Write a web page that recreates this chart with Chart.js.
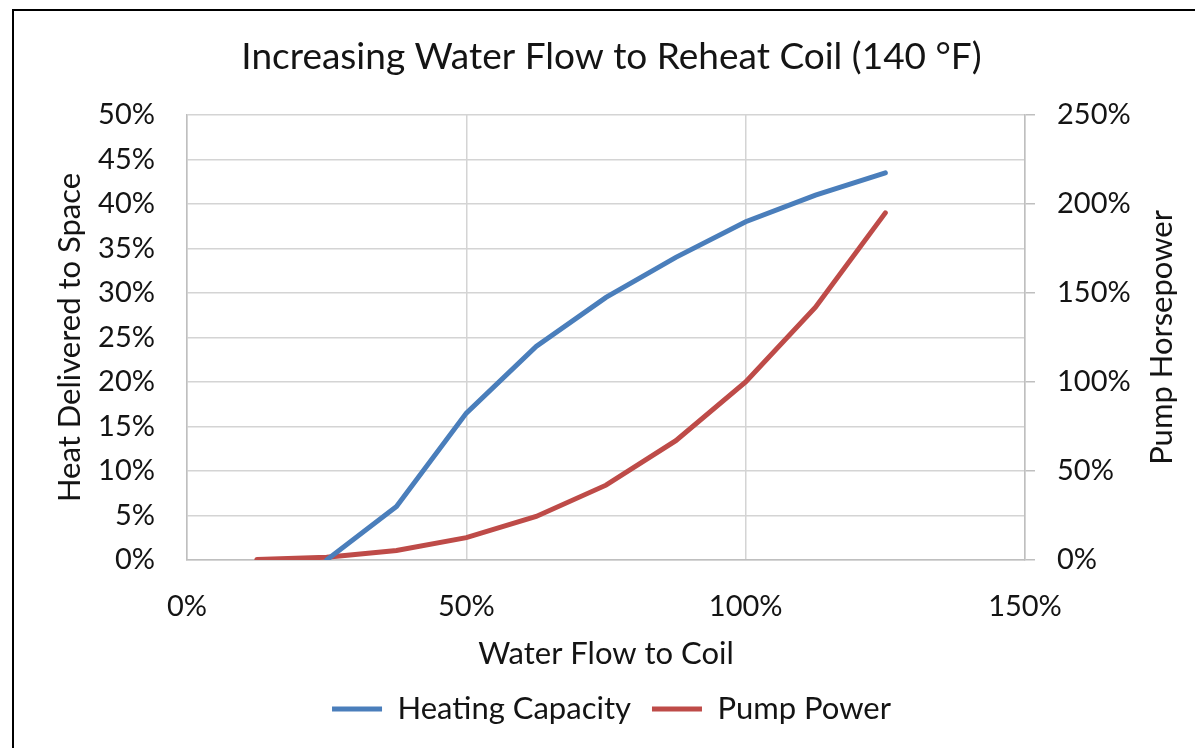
<!DOCTYPE html>
<html><head><meta charset="utf-8">
<script src="https://cdn.jsdelivr.net/npm/chart.js@4.4.0/dist/chart.umd.min.js"></script>
<style>
html,body{margin:0;padding:0;background:#fff;}
#wrap{position:relative;width:1195px;height:748px;overflow:hidden;background:#fff;}
#frame{position:absolute;left:12px;top:9px;width:1300px;height:900px;border-left:2px solid #000;border-top:2px solid #000;pointer-events:none;}
canvas{position:absolute;left:0;top:0;}
</style></head><body>
<div id="wrap"><canvas id="c" width="1195" height="748"></canvas><div id="frame"></div></div>
<script>
// Data
const flow = [12.5, 25, 37.5, 50, 62.5, 75, 87.5, 100, 112.5, 125];           // Water Flow to Coil (%)
const heatingCapacity = [null, 0, 6, 16.5, 24, 29.5, 34, 38, 41, 43.5];      // Heat Delivered to Space (%)
const pumpPower = [0.2, 1.5, 5.3, 12.5, 24.4, 42, 67, 100, 142, 195];        // Pump Horsepower (%)
const xTicks = [0, 50, 100, 150];
const leftTicks = [0, 5, 10, 15, 20, 25, 30, 35, 40, 45, 50];
const rightTicks = [0, 50, 100, 150, 200, 250];
const titleText = 'Increasing Water Flow to Reheat Coil (140 °F)';
const xTitle = 'Water Flow to Coil';
const yTitle = 'Heat Delivered to Space';
const y1Title = 'Pump Horsepower';
const seriesNames = ['Heating Capacity', 'Pump Power'];

const FONT = 'Lato, "Open Sans", sans-serif';
const TXT = '#141414';
const GRID = '#d4d4d4';
const AXIS = '#bfbfbf';

const toPts = (ys) => flow.map((x, i) => ({x: x, y: ys[i]}));

const rightTitlePlugin = {
  id: 'rightTitle',
  afterDraw(chart) {
    const s = chart.scales.y1;
    const ctx = chart.ctx;
    ctx.save();
    ctx.translate(s.right - 33, (chart.chartArea.top + chart.chartArea.bottom) / 2);
    ctx.rotate(-Math.PI / 2);
    ctx.font = '31px ' + FONT;
    ctx.fillStyle = TXT;
    ctx.textAlign = 'center';
    ctx.textBaseline = 'middle';
    ctx.fillText(y1Title, 0, 0);
    ctx.restore();
  }
};

new Chart(document.getElementById('c'), {
  type: 'line',
  data: {
    datasets: [
      {label: seriesNames[0], data: toPts(heatingCapacity), yAxisID: 'y',
       borderColor: '#4a7ebb', backgroundColor: '#4a7ebb', borderWidth: 5,
       pointRadius: 0, tension: 0, borderCapStyle: 'round', spanGaps: false},
      {label: seriesNames[1], data: toPts(pumpPower), yAxisID: 'y1',
       borderColor: '#be4b48', backgroundColor: '#be4b48', borderWidth: 5,
       pointRadius: 0, tension: 0, borderCapStyle: 'round'}
    ]
  },
  options: {
    responsive: false,
    animation: false,
    layout: {padding: {left: 28, right: 0, top: 0, bottom: 13.5}},
    plugins: {
      title: {display: true, text: titleText, color: TXT,
        font: {family: FONT, size: 37, weight: 'normal'},
        padding: {top: 35, bottom: 35.6}},
      legend: {display: true, position: 'bottom',
        labels: {color: TXT, font: {family: FONT, size: 31}, padding: 21,
          usePointStyle: true, pointStyle: 'line', pointStyleWidth: 50}},
      tooltip: {enabled: false}
    },
    scales: {
      x: {type: 'linear', min: 0, max: 150,
        afterBuildTicks: (s) => { s.ticks = xTicks.map(v => ({value: v})); },
        afterFit: (s) => { s.height = 112.6; },
        grid: {color: GRID, lineWidth: 1.5, drawTicks: false},
        border: {color: AXIS, width: 1.5},
        ticks: {color: TXT, font: {family: FONT, size: 29}, padding: 29.6, callback: v => v + '%'},
        title: {display: true, text: xTitle, color: TXT, font: {family: FONT, size: 31}, padding: {top: 0, bottom: 0}}
      },
      y: {type: 'linear', position: 'left', min: 0, max: 50,
        afterBuildTicks: (s) => { s.ticks = leftTicks.map(v => ({value: v})); },
        afterFit: (s) => { s.width = 159; },
        grid: {color: GRID, lineWidth: 1.5, drawTicks: false},
        border: {color: AXIS, width: 1.5},
        ticks: {color: TXT, font: {family: FONT, size: 29}, padding: 32, callback: v => v + '%'},
        title: {display: true, text: yTitle, color: TXT, font: {family: FONT, size: 31}, padding: {top: 23.4, bottom: 0}}
      },
      y1: {type: 'linear', position: 'right', min: 0, max: 250,
        afterBuildTicks: (s) => { s.ticks = rightTicks.map(v => ({value: v})); },
        afterFit: (s) => { s.width = 170; },
        grid: {color: AXIS, lineWidth: 1.5, drawOnChartArea: false, drawTicks: true, tickLength: 10},
        border: {color: AXIS, width: 1.5},
        ticks: {color: TXT, font: {family: FONT, size: 29}, padding: 22, callback: v => v + '%'},
        title: {display: false, text: y1Title}
      }
    }
  },
  plugins: [rightTitlePlugin]
});
</script>
</body></html>
